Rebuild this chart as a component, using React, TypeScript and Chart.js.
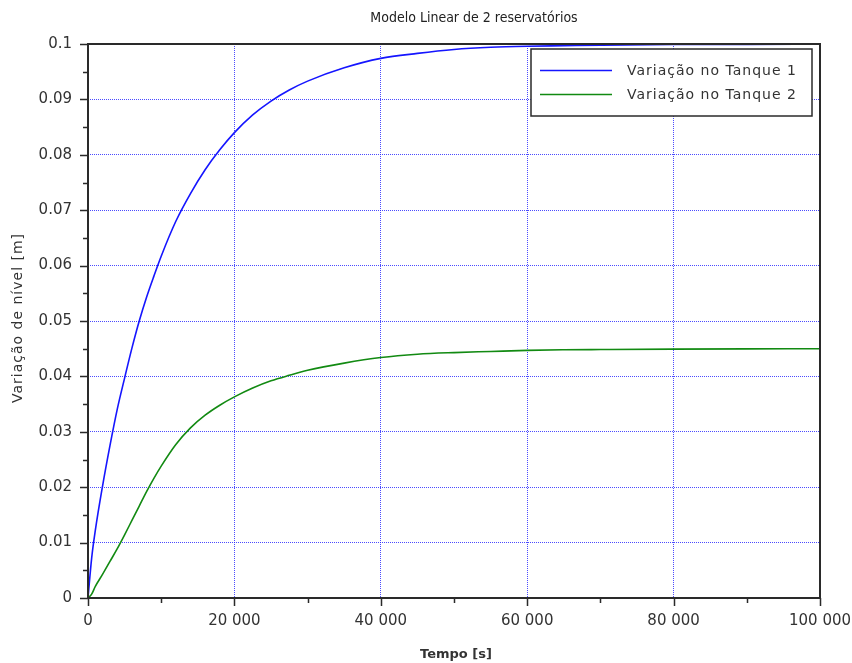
import React, { useEffect, useRef } from "react";
import { Chart, registerables } from "chart.js";

Chart.register(...registerables);

const titleText = "Modelo Linear de 2 reservatórios";
const xAxisTitle = "Tempo [s]";
const yAxisTitle = "Variação de nível [m]";
const seriesLabels = ["Variação no Tanque 1", "Variação no Tanque 2"];

const timeS = [
  0, 500, 1000, 2000, 3000, 4000, 5000, 6000, 7000, 8000, 9000, 10000, 12000,
  14000, 16000, 18000, 20000, 22500, 25000, 27500, 30000, 35000, 40000, 45000,
  50000, 55000, 60000, 65000, 70000, 80000, 90000, 100000,
];
const tank1 = [
  0, 0.0072, 0.0122, 0.0203, 0.0275, 0.0341, 0.0397, 0.0451, 0.05, 0.0543,
  0.0581, 0.0617, 0.068, 0.073, 0.0773, 0.0809, 0.084, 0.0872, 0.0897, 0.0917,
  0.0933, 0.0957, 0.0974, 0.0983, 0.099, 0.0994, 0.0996, 0.0997, 0.0998,
  0.0999, 0.0999, 0.1,
];
const tank2 = [
  0, 0.0007, 0.0021, 0.0043, 0.0066, 0.0089, 0.0114, 0.014, 0.0166, 0.0192,
  0.0216, 0.0238, 0.0277, 0.0307, 0.033, 0.0348, 0.0363, 0.0379, 0.0392,
  0.0402, 0.0411, 0.0424, 0.0434, 0.044, 0.0443, 0.0445, 0.0447, 0.0448,
  0.04485, 0.04493, 0.04497, 0.045,
];
const xMajorTicks = [0, 20000, 40000, 60000, 80000, 100000];
const xMinorTicks = [10000, 30000, 50000, 70000, 90000];
const yMajorTicks = [0, 0.01, 0.02, 0.03, 0.04, 0.05, 0.06, 0.07, 0.08, 0.09, 0.1];
const yMinorTicks = [0.005, 0.015, 0.025, 0.035, 0.045, 0.055, 0.065, 0.075, 0.085, 0.095];

const lineColors = ["#1515ff", "#128a12"];
const gridColor = "rgba(30,30,255,0.8)";
const axisColor = "#2a2a2a";
const textColor = "#333333";
const FONT = "'DejaVu Sans', sans-serif";

const fmtX = (v: number) =>
  String(Math.round(v)).replace(/\B(?=(\d{3})+(?!\d))/g, " ");
const fmtY = (v: number) => String(parseFloat(v.toFixed(3)));

const decorPlugin = {
  id: "decor",
  afterDraw(chart: any) {
    const { ctx, chartArea: a, scales } = chart;
    const xs = scales.x;
    const ys = scales.y;
    ctx.save();
    // frame
    ctx.strokeStyle = axisColor;
    ctx.lineWidth = 2;
    ctx.strokeRect(a.left, a.top, a.right - a.left, a.bottom - a.top);
    // ticks
    ctx.lineWidth = 1.5;
    ctx.beginPath();
    for (const v of yMajorTicks) {
      const y = Math.round(ys.getPixelForValue(v)) + 0.5;
      ctx.moveTo(a.left - 8, y);
      ctx.lineTo(a.left, y);
    }
    for (const v of yMinorTicks) {
      const y = Math.round(ys.getPixelForValue(v)) + 0.5;
      ctx.moveTo(a.left - 5, y);
      ctx.lineTo(a.left, y);
    }
    for (const v of xMajorTicks) {
      const x = Math.round(xs.getPixelForValue(v)) + 0.5;
      ctx.moveTo(x, a.bottom);
      ctx.lineTo(x, a.bottom + 8);
    }
    for (const v of xMinorTicks) {
      const x = Math.round(xs.getPixelForValue(v)) + 0.5;
      ctx.moveTo(x, a.bottom);
      ctx.lineTo(x, a.bottom + 5);
    }
    ctx.stroke();

    // title
    ctx.fillStyle = "#222";
    ctx.font = "14px 'Liberation Sans Narrow', 'DejaVu Sans Condensed', sans-serif";
    ctx.textAlign = "center";
    ctx.textBaseline = "middle";
    ctx.fillText(titleText, 474, 18);

    // x title
    ctx.fillStyle = textColor;
    ctx.font = `bold 13px ${FONT}`;
    ctx.fillText(xAxisTitle, 456, 655);

    // y title
    ctx.save();
    ctx.translate(18, 318);
    ctx.rotate(-Math.PI / 2);
    ctx.font = `14px ${FONT}`;
    (ctx as any).letterSpacing = "1px";
    ctx.fillText(yAxisTitle, 0, 0);
    ctx.restore();

    // legend
    const lx = 531, ly = 49, lw = 281, lh = 67;
    ctx.fillStyle = "#ffffff";
    ctx.fillRect(lx, ly, lw, lh);
    ctx.strokeStyle = axisColor;
    ctx.lineWidth = 1.5;
    ctx.strokeRect(lx, ly, lw, lh);
    ctx.font = `14px ${FONT}`;
    (ctx as any).letterSpacing = "1px";
    ctx.textAlign = "left";
    ctx.textBaseline = "middle";
    seriesLabels.forEach((lab, i) => {
      const yy = ly + 21 + i * 24;
      ctx.strokeStyle = lineColors[i];
      ctx.lineWidth = 1.5;
      ctx.beginPath();
      ctx.moveTo(lx + 9, yy + 0.5);
      ctx.lineTo(lx + 81, yy + 0.5);
      ctx.stroke();
      ctx.fillStyle = textColor;
      ctx.fillText(lab, lx + 96, yy + 1);
    });
    ctx.restore();
  },
};

export default function App() {
  const canvasRef = useRef<HTMLCanvasElement | null>(null);

  useEffect(() => {
    if (!canvasRef.current) return;
    const datasets = [tank1, tank2].map((vals, i) => ({
      label: seriesLabels[i],
      data: timeS.map((t, k) => ({ x: t, y: vals[k] })),
      borderColor: lineColors[i],
      backgroundColor: lineColors[i],
      borderWidth: 1.6,
      pointRadius: 0,
      cubicInterpolationMode: "monotone",
      fill: false,
    }));
    const chart = new Chart(canvasRef.current, {
      type: "line",
      data: { datasets },
      plugins: [decorPlugin],
      options: {
        animation: false,
        responsive: false,
        devicePixelRatio: 1,
        layout: { padding: { left: 0, top: 44, right: 32, bottom: 0 } },
        plugins: {
          legend: { display: false },
          title: { display: false },
          tooltip: { enabled: false },
        },
        scales: {
          x: {
            type: "linear",
            min: 0,
            max: 100000,
            afterFit: (s: any) => {
              s.height = 65;
              s.paddingLeft = 0;
              s.paddingRight = 0;
            },
            afterBuildTicks: (s: any) => {
              s.ticks = xMajorTicks.map((v) => ({ value: v }));
            },
            ticks: {
              callback: (v: any) => fmtX(Number(v)),
              font: { family: FONT, size: 15 },
              color: textColor,
              padding: 14,
              maxRotation: 0,
              autoSkip: false,
            },
            grid: { color: gridColor, lineWidth: 1, drawTicks: false },
            border: { display: false, dash: [1, 1] },
          },
          y: {
            type: "linear",
            min: 0,
            max: 0.1,
            afterFit: (s: any) => {
              s.width = 88;
              s.paddingTop = 0;
              s.paddingBottom = 0;
            },
            afterBuildTicks: (s: any) => {
              s.ticks = yMajorTicks.map((v) => ({ value: v }));
            },
            ticks: {
              callback: (v: any) => fmtY(Number(v)),
              font: { family: FONT, size: 15 },
              color: textColor,
              padding: 16,
              autoSkip: false,
            },
            grid: { color: gridColor, lineWidth: 1, drawTicks: false },
            border: { display: false, dash: [1, 1] },
          },
        },
      } as any,
    });
    return () => chart.destroy();
  }, []);

  return (
    <div style={{ position: "fixed", left: 0, top: 0, width: 852, height: 663, background: "#fff" }}>
      <canvas ref={canvasRef} width={852} height={663} style={{ width: 852, height: 663, display: "block" }} />
    </div>
  );
}
